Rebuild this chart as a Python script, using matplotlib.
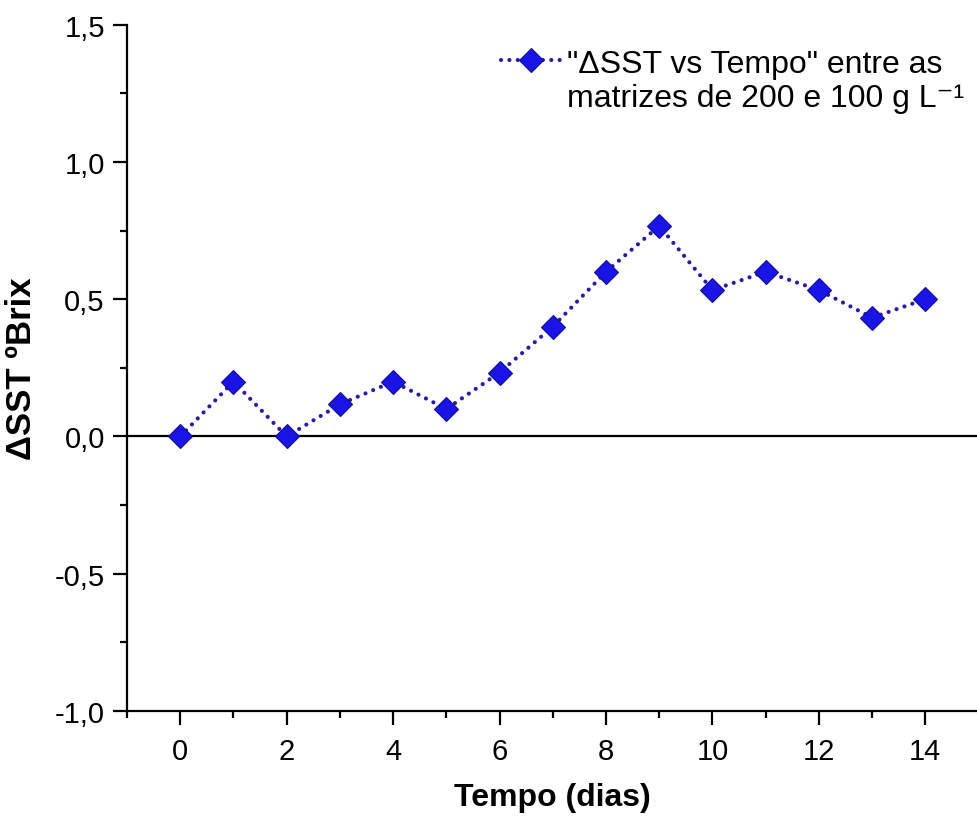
import matplotlib
matplotlib.use('Agg')
import matplotlib.pyplot as plt
from matplotlib.lines import Line2D
from matplotlib.ticker import MultipleLocator, FuncFormatter

plt.rcParams['font.family'] = ['Liberation Sans', 'DejaVu Sans']

# data
dias = [0, 1, 2, 3, 4, 5, 6, 7, 8, 9, 10, 11, 12, 13, 14]
delta_sst = [0.0, 0.2, 0.0, 0.117, 0.2, 0.1, 0.233, 0.4, 0.6, 0.767,
             0.533, 0.6, 0.533, 0.433, 0.5]
serie_label = ['"\u0394SST vs Tempo" entre as', 'matrizes de 200 e 100 g L\u207b\u00b9']

fig = plt.figure(figsize=(9.77, 8.2), dpi=100)
ax = fig.add_axes([0.130, 0.1317, 0.87, 0.837])

ax.axhline(0, color='black', lw=1.6, zorder=1)
serie, = ax.plot(dias, delta_sst, linestyle=(0, (0.01, 2.0)), dash_capstyle='round',
                 color='#2a1aa8', lw=3.0, marker='D', markersize=12.5,
                 markerfacecolor='#1a14e6', markeredgecolor='#10108a',
                 markeredgewidth=0.8, zorder=3)

ax.set_xlim(-1, 14.97)
ax.set_ylim(-1.0, 1.5)
ax.xaxis.set_major_locator(MultipleLocator(2))
ax.xaxis.set_minor_locator(MultipleLocator(1))
ax.yaxis.set_major_locator(MultipleLocator(0.5))
ax.yaxis.set_minor_locator(MultipleLocator(0.25))
ax.yaxis.set_major_formatter(FuncFormatter(lambda v, p: ('%.1f' % v).replace('.', ',')))

for s in ['top', 'right']:
    ax.spines[s].set_visible(False)
for s in ['left', 'bottom']:
    ax.spines[s].set_linewidth(1.6)

ax.tick_params(which='major', direction='out', length=10, width=1.6, labelsize=21, pad=6)
ax.tick_params(which='minor', direction='out', length=5, width=1.6)
ax.tick_params(axis='x', pad=9)

ax.set_xlabel('Tempo (dias)', fontsize=23, fontweight='bold', labelpad=12)
ax.set_ylabel('\u0394SST \u00baBrix', fontsize=25, fontweight='bold', labelpad=12)

# legend: handle on first line, second line of the label without handle
vazio = Line2D([], [], alpha=0)
leg = ax.legend([serie, vazio], serie_label, loc='upper left',
                bbox_to_anchor=(0.500, 0.955), bbox_transform=fig.transFigure,
                frameon=False, fontsize=23, handlelength=1.85, handletextpad=0.2,
                borderaxespad=0, labelspacing=0.12)

fig.savefig('out.png', dpi=100)
